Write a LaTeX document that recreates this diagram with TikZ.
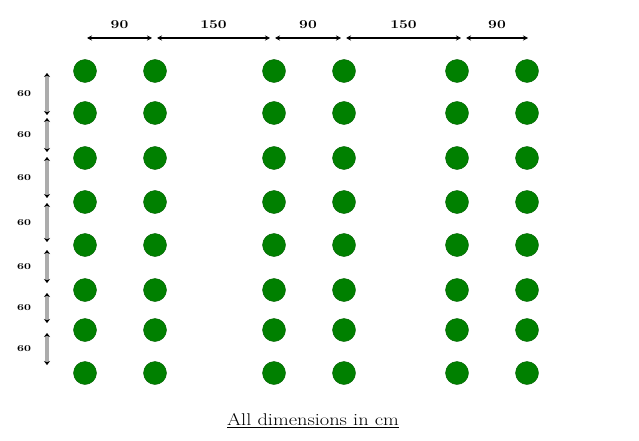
\documentclass[tikz,border=0pt]{standalone}
\usepackage{tikz}
\usepackage{graphicx}
\usetikzlibrary{arrows.meta}

\definecolor{plantgreen}{RGB}{0,128,0}
\newcommand{\wide}[1]{\scalebox{1.3}[1]{#1}}
\tikzset{
  plant/.style={circle,fill=plantgreen,draw=plantgreen!75!black,minimum size=23pt,inner sep=0pt},
  toplab/.style={font=\fontsize{12}{14}\selectfont\bfseries,inner sep=1pt},
  sidelab/.style={font=\fontsize{9}{11}\selectfont\bfseries,inner sep=1pt,text=black},
  hdim/.style={draw=black,line width=1.1pt,arrows={{Stealth[length=5pt,width=5pt]}-{Stealth[length=5pt,width=5pt]}}},
  vdim/.style={draw=gray!65,line width=3.3pt,arrows={{Stealth[color=black,length=4pt,width=6pt]}-{Stealth[color=black,length=4pt,width=6pt]}}}
}

\begin{document}
\begin{tikzpicture}[x=1pt,y=-1pt]
  \useasboundingbox (0,0) rectangle (639,441);
  % plants
  \foreach \x [count=\i] in {85,155,274,344,457,527}
    \foreach \y [count=\j] in {71,113,158,202,245,290,330,373}
      \node[plant] (p\i-\j) at (\x,\y) {};
  % spacing across the rows
  \coordinate (h1) at (87,38);  \coordinate (h2) at (152,38);
  \coordinate (h3) at (157,38); \coordinate (h4) at (270,38);
  \coordinate (h5) at (275,38); \coordinate (h6) at (341,38);
  \coordinate (h7) at (346,38); \coordinate (h8) at (461,38);
  \coordinate (h9) at (466,38); \coordinate (h10) at (528,38);
  \draw[hdim] (h1) -- node[toplab,above=8pt] (w1) {\wide{90}} (h2);
  \draw[hdim] (h3) -- node[toplab,above=8pt] (w2) {\wide{150}} (h4);
  \draw[hdim] (h5) -- node[toplab,above=8pt] (w3) {\wide{90}} (h6);
  \draw[hdim] (h7) -- node[toplab,above=8pt] (w4) {\wide{150}} (h8);
  \draw[hdim] (h9) -- node[toplab,above=8pt] (w5) {\wide{90}} (h10);
  % spacing along the rows
  \foreach \a/\b [count=\k] in {73/115,118/152,157/198,203/242,250/283,293/323,333/365}{
    \coordinate (v\k a) at (47,\a);
    \coordinate (v\k b) at (47,\b);
    \draw[vdim] (v\k a) -- (v\k b);
    \node[sidelab] (s\k) at (24,{(\a+\b)/2}) {\wide{60}};
  }
  \node[font=\fontsize{17}{20}\selectfont] (note) at (313,421) {\underline{\scalebox{1.2}[1]{All dimensions in cm}}};
\end{tikzpicture}
\end{document}
